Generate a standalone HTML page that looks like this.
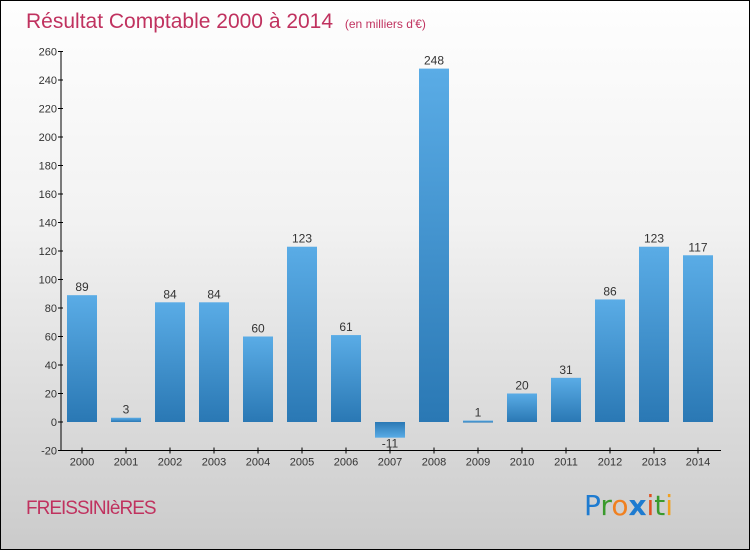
<!DOCTYPE html>
<html><head><meta charset="utf-8"><style>
body{margin:0}
#c{width:748px;height:548px;border:1px solid #000;position:relative;background:linear-gradient(#fefefe,#f2f2f2 40%,#cbcbcb);font-family:"Liberation Sans",sans-serif;overflow:hidden}
</style></head><body>
<div id="c">
<svg width="748" height="548" id="s">
<defs><linearGradient id="g" x1="0" y1="0" x2="0" y2="1"><stop offset="0" stop-color="#5aace6"/><stop offset="1" stop-color="#2a78b4"/></linearGradient>
<linearGradient id="gn" x1="0" y1="0" x2="0" y2="1"><stop offset="0" stop-color="#2a78b4"/><stop offset="1" stop-color="#5aace6"/></linearGradient></defs>
<text x="25" y="27" font-size="21" fill="#c0325f">Résultat Comptable 2000 à 2014 <tspan font-size="12" dx="6">(en milliers d'€)</tspan></text>
<text x="25" y="513" font-size="19" fill="#c0325f" letter-spacing="-1">FREISSINIèRES</text>
<text x="583" y="514" font-size="28" font-family="'DejaVu Sans',sans-serif"><tspan fill="#1e7bd0">P</tspan><tspan fill="#3a9a2c">r</tspan><tspan fill="#f08020">o</tspan><tspan fill="#1e7bd0" font-weight="bold">x</tspan><tspan fill="#e05020">i</tspan><tspan fill="#3a9a2c">t</tspan><tspan fill="#f0a020">i</tspan></text>
<g id="plot"></g>
</svg></div>
<script>
const years=["2000","2001","2002","2003","2004","2005","2006","2007","2008","2009","2010","2011","2012","2013","2014"];
const values=[89,3,84,84,60,123,61,-11,248,1,20,31,86,123,117];
const yTicks=[-20,0,20,40,60,80,100,120,140,160,180,200,220,240,260];
const NS="http://www.w3.org/2000/svg";
const g=document.getElementById('plot');
const y=v=>421+(0-v)*(399/280);
const x=i=>81+44*i;
function mk(t,a,txt){const e=document.createElementNS(NS,t);for(const k in a)e.setAttribute(k,a[k]);if(txt!==undefined)e.textContent=txt;g.appendChild(e);return e;}
let ax=mk('line',{x1:60,y1:y(260),x2:60,y2:y(-20),stroke:'#000'});


let bx=mk('line',{x1:60,y1:y(-20),x2:720,y2:y(-20),stroke:'#000'});


yTicks.forEach(t=>{
 let l=mk('line',{x1:57,x2:62,y1:y(t),y2:y(t),stroke:'#000'});
 
 
 let tx=mk('text',{x:56,y:y(t)+4,'font-size':11,fill:'#333','text-anchor':'end'},t);
 
 
});
years.forEach((yr,i)=>{
 const v=values[i];
 const top=Math.min(y(v),y(0)),h=Math.max(Math.abs(y(v)-y(0)),2);
 let r=mk('rect',{x:x(i)-15,y:top,width:30,height:h,fill:v<0?'url(#gn)':'url(#g)'});
 
 
 let lb=mk('text',{x:x(i),y:v<0?y(v)+10:y(v)-4,'font-size':12,fill:'#333','text-anchor':'middle'},v);
 
 
 let tk=mk('line',{x1:x(i),x2:x(i),y1:y(-20)-3,y2:y(-20)+3,stroke:'#000'});
 
 
 let xl=mk('text',{x:x(i),y:y(-20)+15,'font-size':11,fill:'#333','text-anchor':'middle'},yr);
 
 
});
</script>
</body></html>
